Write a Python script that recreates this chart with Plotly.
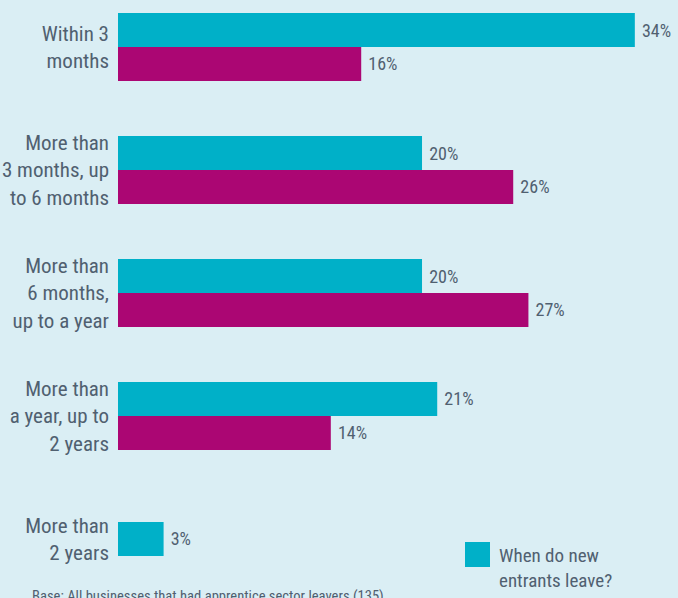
import plotly.graph_objects as go

categories = [
    "Within 3<br>months",
    "More than<br>3 months, up<br>to 6 months",
    "More than<br>6 months,<br>up to a year",
    "More than<br>a year, up to<br>2 years",
    "More than<br>2 years",
]
new_entrants = [34, 20, 20, 21, 3]
other_series = [16, 26, 27, 14, None]
legend_label = "When do new<br>entrants leave?"
footer = "Base: All businesses that had apprentice sector leavers (135)"

TEAL = "#00b0c8"
MAGENTA = "#ab0673"
BG = "#daeef4"
TXT = "#506070"
FONT = "Roboto Condensed, Liberation Sans Narrow, Roboto, sans-serif"
W = 0.276

fig = go.Figure()
fig.add_trace(go.Bar(
    y=categories, x=new_entrants, orientation="h",
    marker=dict(color=TEAL, line=dict(width=0)),
    width=W, offset=[-W, -W, -W, -W, -W / 2],
    text=[f" {v}%" for v in new_entrants], textposition="outside",
    textfont=dict(size=18, color=TXT, family=FONT), cliponaxis=False,
    name="When do new entrants leave?", showlegend=False, hoverinfo="skip",
))
fig.add_trace(go.Bar(
    y=categories, x=other_series, orientation="h",
    marker=dict(color=MAGENTA, line=dict(width=0)),
    width=W, offset=0,
    text=[f" {v}%" if v is not None else "" for v in other_series], textposition="outside",
    textfont=dict(size=18, color=TXT, family=FONT), cliponaxis=False,
    showlegend=False, hoverinfo="skip",
))

fig.update_layout(
    width=678, height=598,
    paper_bgcolor=BG, plot_bgcolor=BG,
    margin=dict(l=118, r=0, t=0, b=0),
    barmode="overlay",
    uniformtext=dict(minsize=18, mode="show"),
    font=dict(family=FONT, color=TXT),
    xaxis=dict(range=[0, 36.84], visible=False, fixedrange=True),
    yaxis=dict(
        type="category", range=[4.48, -0.382], fixedrange=True,
        showgrid=False, zeroline=False, showline=False,
        ticks="", ticklabelstandoff=8,
        tickfont=dict(size=21, color=TXT, family=FONT),
    ),
    shapes=[dict(type="rect", xref="paper", yref="paper",
                 x0=(465 - 118) / 560, x1=(490 - 118) / 560,
                 y0=1 - 567 / 598, y1=1 - 542 / 598,
                 fillcolor=TEAL, line=dict(width=0))],
    annotations=[
        dict(text=legend_label, xref="paper", yref="paper",
             x=(497 - 118) / 560, y=1 - 542 / 598, xanchor="left", yanchor="top",
             align="left", showarrow=False, font=dict(size=19, color=TXT, family=FONT)),
        dict(text=footer, xref="paper", yref="paper",
             x=-(118 - 30) / 560, y=1 - 585 / 598, xanchor="left", yanchor="top",
             align="left", showarrow=False, font=dict(size=14.6, color=TXT, family=FONT)),
    ],
)

fig.write_html("out.html", config={"displayModeBar": False, "staticPlot": True})
with open("out.html", "r", encoding="utf-8") as f:
    html = f.read()
html = html.replace("<head>", "<head><style>html,body{margin:0;padding:0;background:#daeef4;overflow:hidden}</style>", 1)
with open("out.html", "w", encoding="utf-8") as f:
    f.write(html)
